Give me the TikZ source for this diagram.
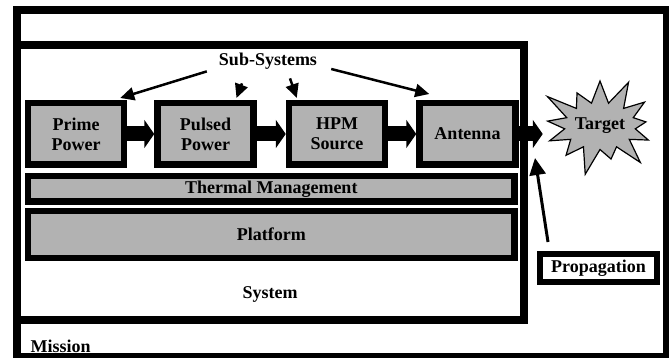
\documentclass[tikz,border=0pt]{standalone}
\usepackage{fontspec}
\setmainfont{Liberation Serif}
\usetikzlibrary{positioning, arrows.meta, shapes.symbols}

\begin{document}
\begin{tikzpicture} [x=1pt, y=-1pt, font=\fontsize{18}{20}\selectfont\bfseries,
  sub/.style={draw, line width=6.5pt, fill=black!30, minimum width=96pt, minimum height=61.5pt, align=center, inner sep=0pt},
  bar/.style={draw, line width=6.5pt, fill=black!30, minimum width=486.5pt, inner sep=0pt},
  block/.style={line width=15pt, -{Triangle[length=10pt, width=28pt]}},
  feed/.style={line width=2.5pt, -{Triangle[length=14pt, width=13pt]}}]
\useasboundingbox (0,0) rectangle (669,358);
\draw [line width=8pt] (17,10) rectangle (667,357);
\draw [line width=8pt] (17,45.5) rectangle (523.5,319.5);
\node[sub] (prime) at (76,134) {Prime\\Power};
\node[sub, right=27pt of prime] (pulsed) {Pulsed\\Power};
\node[sub, right=29pt of pulsed] (hpm) {HPM\\Source};
\node[sub, right=28pt of hpm] (antenna) {Antenna};
\node[bar, minimum height=25.5pt, below=5pt of prime.south west, anchor=north west] (thermal) {Thermal Management};
\node[bar, minimum height=46.5pt, below=3pt of thermal] (platform) {Platform};
\node (system) at (270,294) {System};
\node[anchor=west] (mission) at (27,346) {Mission};
\node[inner sep=2pt] (subsys) at (268,61) {Sub-Systems};
\node[starburst, draw, fill=black!30, line width=1.2pt, starburst points=13, starburst point height=30pt, minimum width=113pt, minimum height=107pt, inner sep=0pt] (target) at (600,126) {Target};
\node[draw, line width=6pt, minimum width=117pt, minimum height=28pt, inner sep=0pt] (prop) at (598.5,268) {Propagation};
\coordinate (beam) at (535,158);
\draw [block] (prime) -- (pulsed);
\draw [block] (pulsed) -- (hpm);
\draw [block] (hpm) -- (antenna);
\draw [block] (antenna.east) -- ([xshift=24pt]antenna.east);
\draw [feed] ([xshift=-10pt]subsys.south west) -- ([xshift=-7pt, yshift=2pt]prime.north east);
\draw [feed] ([xshift=-26pt, yshift=-12pt]subsys.south) -- ([xshift=31pt, yshift=2pt]pulsed.north);
\draw [feed] ([xshift=22pt, yshift=-7pt]subsys.south) -- ([xshift=11pt, yshift=2pt]hpm.north west);
\draw [feed] ([xshift=12pt, yshift=-8pt]subsys.east) -- ([xshift=13pt, yshift=6pt]antenna.north west);
\draw [line width=3pt, -{Triangle[length=17pt, width=16pt]}] ([xshift=11pt, yshift=9pt]prop.north west) -- (beam);
\end{tikzpicture}
\end{document}
